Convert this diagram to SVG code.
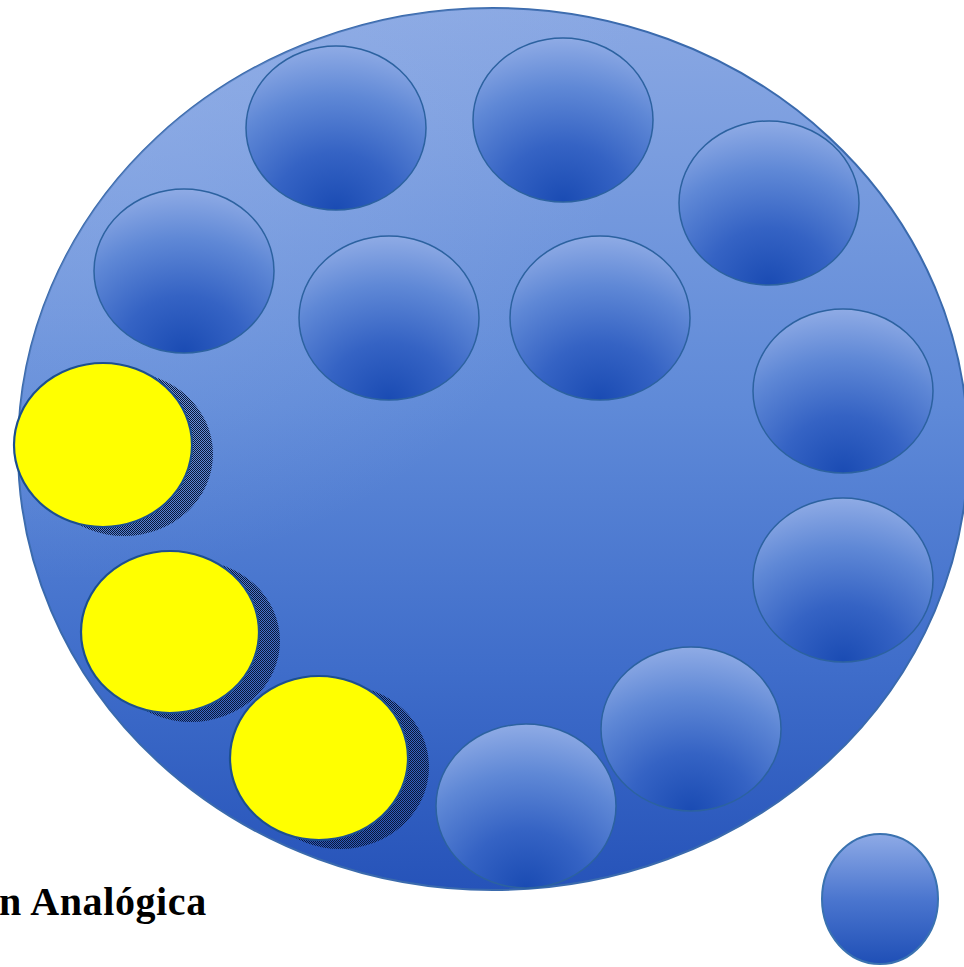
<svg xmlns="http://www.w3.org/2000/svg" width="964" height="967" viewBox="0 0 964 967">
  <defs>
    <linearGradient id="bigGrad" x1="0" y1="0" x2="0" y2="1">
      <stop offset="0" stop-color="#8aa8e3"/>
      <stop offset="0.45" stop-color="#5f8ad8"/>
      <stop offset="0.75" stop-color="#3f6dca"/>
      <stop offset="1" stop-color="#2653b9"/>
    </linearGradient>
    <radialGradient id="bigShade" cx="0.05" cy="0.05" r="0.6">
      <stop offset="0" stop-color="#9bb6ea" stop-opacity="0.5"/>
      <stop offset="1" stop-color="#9bb6ea" stop-opacity="0"/>
    </radialGradient>
    <radialGradient id="dishGrad" cx="0.5" cy="1" r="1" fx="0.5" fy="1">
      <stop offset="0" stop-color="#1a4bb3"/>
      <stop offset="0.35" stop-color="#3563c4"/>
      <stop offset="0.7" stop-color="#5f88d6"/>
      <stop offset="1" stop-color="#8fabe5"/>
    </radialGradient>
    <linearGradient id="ballGrad" x1="0" y1="0" x2="0" y2="1">
      <stop offset="0" stop-color="#8eaae6"/>
      <stop offset="0.5" stop-color="#4b76cf"/>
      <stop offset="1" stop-color="#1f4fb6"/>
    </linearGradient>
    <pattern id="checker" width="2" height="2" patternUnits="userSpaceOnUse">
      <rect x="0" y="0" width="1" height="1" fill="#0b1838"/>
      <rect x="1" y="1" width="1" height="1" fill="#0b1838"/>
    </pattern>
  </defs>
  <style>
    .dish { fill: url(#dishGrad); stroke: #2c62a0; stroke-width: 1.5; }
    .yellow { fill: #ffff00; stroke: #1c4f8f; stroke-width: 2.2; }
    .shadow { fill: url(#checker); }
    .label { font-family: "Liberation Serif", "DejaVu Serif", serif; font-weight: bold; font-size: 40px; letter-spacing: 0.6px; fill: #000000; }
  </style>

  <g id="plate">
    <ellipse cx="493" cy="449" rx="475" ry="441" fill="url(#bigGrad)" stroke="#3a6aad" stroke-width="2"/>
    <ellipse cx="493" cy="449" rx="475" ry="441" fill="url(#bigShade)"/>
  </g>

  <g id="dish1"><ellipse class="dish" cx="336" cy="128" rx="90" ry="82"/></g>
  <g id="dish2"><ellipse class="dish" cx="563" cy="120" rx="90" ry="82"/></g>
  <g id="dish3"><ellipse class="dish" cx="769" cy="203" rx="90" ry="82"/></g>
  <g id="dish4"><ellipse class="dish" cx="184" cy="271" rx="90" ry="82"/></g>
  <g id="dish5"><ellipse class="dish" cx="389" cy="318" rx="90" ry="82"/></g>
  <g id="dish6"><ellipse class="dish" cx="600" cy="318" rx="90" ry="82"/></g>
  <g id="dish7"><ellipse class="dish" cx="843" cy="391" rx="90" ry="82"/></g>
  <g id="dish8"><ellipse class="dish" cx="843" cy="580" rx="90" ry="82"/></g>
  <g id="dish9"><ellipse class="dish" cx="691" cy="729" rx="90" ry="82"/></g>
  <g id="dish10"><ellipse class="dish" cx="526" cy="806" rx="90" ry="82"/></g>

  <g id="yellow1">
    <ellipse class="shadow" cx="124" cy="454" rx="89" ry="82"/>
    <ellipse class="yellow" cx="103" cy="445" rx="89" ry="82"/>
  </g>
  <g id="yellow2">
    <ellipse class="shadow" cx="191" cy="641" rx="89" ry="81"/>
    <ellipse class="yellow" cx="170" cy="632" rx="89" ry="81"/>
  </g>
  <g id="yellow3">
    <ellipse class="shadow" cx="340" cy="767" rx="89" ry="82"/>
    <ellipse class="yellow" cx="319" cy="758" rx="89" ry="82"/>
  </g>

  <g id="ball">
    <ellipse cx="880" cy="899" rx="58" ry="65" fill="url(#ballGrad)" stroke="#3a72b0" stroke-width="2"/>
  </g>

  <g id="caption">
    <text class="label" x="-1" y="915">n Analógica</text>
  </g>
</svg>
